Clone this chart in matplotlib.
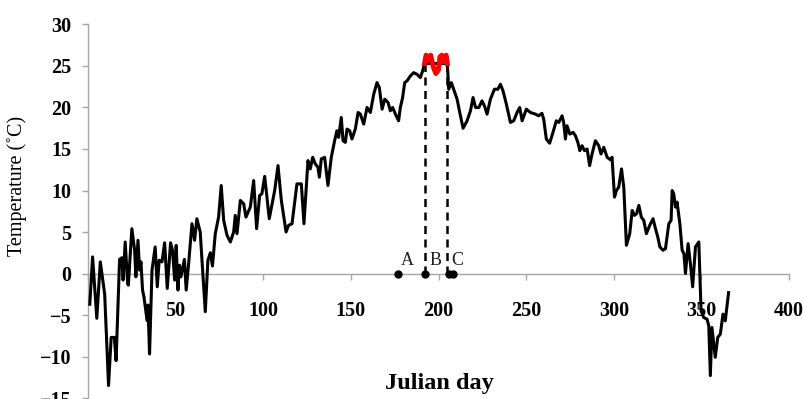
import matplotlib
matplotlib.use("Agg")
import matplotlib.pyplot as plt

# daily air temperature
day = [1, 2.6, 5, 7, 9.5, 11.7, 13.2, 15, 16, 18, 19.3, 20, 21.2, 22.6, 23, 25, 26.6, 27.3,
       28.5, 29.4, 30.2, 31.1, 31.9, 33.2, 33.8, 34.2, 35.1, 36.5, 38.3, 39.5, 40.6, 42.2,
       43.7, 45.2, 47.1, 48.2, 49.4, 50.3, 51.3, 52.2, 53, 55, 56, 57.4, 59.3, 60.8, 62.1,
       64, 66.9, 68.4, 69.8, 71, 72.6, 74.5, 76, 77.4, 79.3, 81.2, 83.1, 84, 85, 86.9, 88.8,
       90.1, 92.6, 94.5, 96.2, 97.9, 99.2, 100.8, 103.4, 106.5, 108.4, 110.3, 113, 114.4,
       116.4, 119.2, 121.7, 123.2, 125.5, 126.8, 128.2, 129.7, 131.2, 132, 133.1, 135,
       136.9, 138.8, 140.7, 142, 143, 144.5, 145.5, 146.8, 147.8, 149.3, 150.6, 152.5,
       154.1, 155.4, 157.3, 159.2, 161.1, 163, 164.9, 166.2, 167.8, 169.3, 171.2, 172.5,
       173.8, 175.4, 177.2, 178.2, 179.5, 180.7, 182, 183.9, 185.8, 187.7, 189.6, 190.9,
       192, 205, 205.8, 207.3, 208.6, 210.6, 212.1, 214, 216.3, 218.2, 219.7, 221.1, 223,
       224.8, 226.2, 227.7, 229.6, 231.9, 233.8, 235.3, 236.8, 238.7, 241, 242.9, 244.8,
       246.3, 247.7, 250.1, 252.4, 255.3, 257.1, 259, 260, 261.5, 263.4, 265.3, 267.2,
       268.6, 270.5, 271.4, 272.4, 273.3, 274.9, 276.8, 278.1, 279.5, 280.6, 281.9, 283.3,
       284.8, 286.2, 287.6, 289.5, 291.4, 292.7, 294.3, 296.2, 298.1, 299, 300.4, 301.5,
       302.8, 304.4, 305.7, 307.2, 309.1, 310.5, 311.8, 313, 314.3, 315.7, 317.1, 318.6,
       320.5, 322.4, 323.8, 325.1, 326.3, 328.1, 329.5, 330.4, 331.4, 332.7, 333.3, 334.2,
       335.2, 336.1, 337.7, 339, 340, 340.9, 342.4, 343.7, 345, 346.6, 348.5, 349.8, 351.3,
       353.2, 354.2, 355.1, 356, 357.9, 359.3, 360.8, 362.3, 363.6, 365.5]
temp = [-3.7, 2.0, -5.4, 1.4, -2.5, -13.5, -7.7, -7.7, -10.5, 1.7, 1.9, -0.8, 3.8, -1.2, -1.4,
        5.4, 2.8, -0.4, 4.0, 0.4, 1.4, -2.0, -2.8, -4.9, -5.7, -3.8, -9.7, 0.4, 3.2, -1.6,
        1.6, 1.4, 3.7, -1.8, 3.7, 2.8, -0.8, 3.4, -2.0, 1.0, -0.4, 1.7, -2.0, 1.2, 6.0, 4.0,
        6.6, 5.0, -4.6, 1.6, 2.5, 0.9, 4.8, 6.8, 10.6, 6.4, 4.6, 3.8, 5.0, 7.0, 4.8, 8.8,
        8.4, 6.8, 8.0, 11.2, 5.4, 9.4, 9.6, 11.7, 6.6, 10.0, 13.0, 8.8, 5.0, 5.8, 6.0, 10.8,
        10.8, 6.0, 13.6, 12.6, 14.0, 13.2, 12.8, 11.6, 13.8, 14.0, 10.6, 14.0, 16.0, 17.2,
        16.4, 18.8, 16.0, 15.8, 17.4, 17.2, 16.2, 17.4, 19.4, 19.2, 18.0, 20.0, 19.4, 21.6,
        23.0, 22.4, 19.8, 21.0, 20.6, 19.6, 20.0, 19.2, 18.4, 20.0, 21.2, 23.0, 23.2, 23.8,
        24.2, 24.0, 23.6, 24.4, 25.3, 25.3, 22.2, 23.0, 22.2, 21.0, 19.4, 17.5, 18.4, 19.6,
        21.2, 20.0, 20.0, 20.8, 20.2, 19.2, 21.0, 22.2, 22.2, 22.8, 22.0, 20.4, 18.2, 18.4,
        19.4, 20.0, 18.4, 19.8, 19.4, 19.2, 19.0, 19.3, 18.6, 16.2, 15.7, 17.0, 18.4, 18.2,
        19.0, 18.2, 16.2, 17.8, 16.8, 17.0, 16.6, 15.8, 14.8, 15.4, 14.8, 15.0, 13.0, 14.4,
        16.0, 15.4, 14.4, 15.2, 14.0, 13.7, 14.0, 9.2, 10.0, 10.4, 12.6, 10.4, 3.4, 4.8,
        7.6, 7.0, 7.2, 8.2, 6.8, 6.4, 4.8, 5.8, 6.6, 5.4, 4.4, 3.2, 2.8, 3.0, 4.4, 6.0, 6.4,
        10.0, 9.6, 8.0, 8.6, 6.0, 2.8, 2.4, 0.0, 3.6, 1.2, -1.6, 3.2, 3.8, -4.5, -5.3, -5.5,
        -6.3, -12.3, -6.5, -10.1, -7.7, -7.3, -4.9, -5.7, -2.3]

# hot spell between the two dashed lines
hot_day = [192, 192.9, 194.2, 195.5, 197, 198.5, 199.9, 200.8, 201.8, 203.1, 204.3, 205]
hot_temp = [25.3, 26.3, 25.7, 26.3, 24.9, 24.1, 24.5, 26.1, 26.3, 25.5, 26.3, 25.3]

marker_days = [177, 192, 206, 208]
mark_labels = ["A", "B", "C"]
mark_label_days = [182.2, 198.2, 210.5]
dashed_days = [192, 205]

plt.rcParams['font.family'] = ['Liberation Serif', 'DejaVu Serif']

fig = plt.figure(figsize=(8.04, 3.99), dpi=100)
ax = fig.add_axes([0.1095, 0.0025, 0.8719, 0.9361])

ax.plot(day, temp, color='black', lw=2.2, zorder=3)
ax.plot(hot_day, hot_temp, color='#ff0000', lw=3.6, zorder=4)
for d, top in zip(dashed_days, [hot_temp[0], hot_temp[-1]]):
    ax.plot([d, d], [0, top], color='black', lw=1.8, ls=(0, (3.2, 2.2)), zorder=3)
ax.plot(marker_days, [0] * len(marker_days), 'o', color='black', ms=5, zorder=5, clip_on=False)
for lab, d in zip(mark_labels, mark_label_days):
    ax.text(d, 1.6, lab, fontsize=13, ha='center', va='center', color='#1c1c28')

ax.set_xlim(0, 400)
ax.set_ylim(-15, 30)
ax.set_xticks(range(0, 401, 50))
ax.set_xticklabels([''] + [str(v) for v in range(50, 401, 50)])
ax.set_yticks(range(-15, 31, 5))

for s in ['top', 'right']:
    ax.spines[s].set_visible(False)
ax.spines['bottom'].set_position(('data', 0))
for s in ['left', 'bottom']:
    ax.spines[s].set_color('#a6a6a6')
    ax.spines[s].set_linewidth(1)

ax.tick_params(axis='both', direction='out', length=4, width=1, color='#a6a6a6',
               labelsize=14.5)
ax.tick_params(axis='x', pad=15.5)
ax.tick_params(axis='y', pad=8)
for lbl in ax.get_xticklabels() + ax.get_yticklabels():
    lbl.set_fontweight('bold')

fig.text(0.547, 0.04, "Julian day", fontsize=17.5, fontweight='bold', ha='center', va='center')
fig.text(0.021, 0.535, "Temperature (\u02daC)", fontsize=14.5, rotation=90, ha='center', va='center')

fig.savefig("out.png", dpi=100)
